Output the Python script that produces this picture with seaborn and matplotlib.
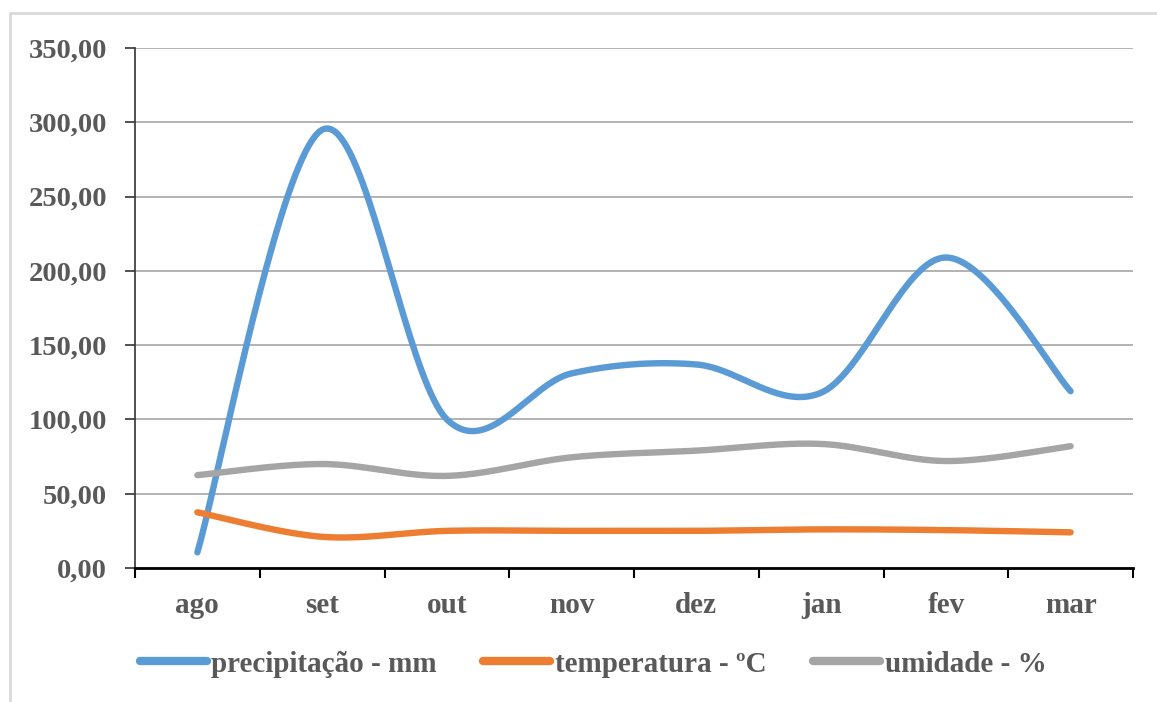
import numpy as np
import pandas as pd
import matplotlib
matplotlib.use("Agg")
import matplotlib.pyplot as plt
import seaborn as sns
from matplotlib.lines import Line2D
from matplotlib.ticker import FuncFormatter, MultipleLocator

months = ["ago", "set", "out", "nov", "dez", "jan", "fev", "mar"]
precipitacao = [10.5, 295.0, 100.0, 131.0, 137.0, 118.0, 209.0, 119.0]
temperatura = [37.5, 21.0, 25.0, 25.0, 25.0, 26.0, 25.5, 24.0]
umidade = [62.5, 70.0, 62.0, 74.5, 79.0, 83.5, 72.0, 82.0]

series_names = ["precipitação - mm", "temperatura - ºC", "umidade - %"]
series_values = [precipitacao, temperatura, umidade]
colors = ["#5B9BD5", "#ED7D31", "#A5A5A5"]


def smooth(x, y, n=40):
    # Catmull-Rom style smoothing (Excel "smoothed line" rendering)
    x = np.asarray(x, float)
    y = np.asarray(y, float)
    P = np.column_stack([x, y])
    P = np.vstack([P[0], P, P[-1]])
    out = []
    for i in range(1, len(P) - 2):
        p0, p1, p2, p3 = P[i - 1], P[i], P[i + 1], P[i + 2]
        c1 = p1 + (p2 - p0) / 6.0
        c2 = p2 - (p3 - p1) / 6.0
        t = np.linspace(0, 1, n, endpoint=(i == len(P) - 3))[:, None]
        pts = ((1 - t) ** 3) * p1 + 3 * ((1 - t) ** 2) * t * c1 + 3 * (1 - t) * t ** 2 * c2 + t ** 3 * p2
        out.append(pts)
    out = np.vstack(out)
    return out[:, 0], out[:, 1]


rows = []
xs = np.arange(len(months))
for name, vals in zip(series_names, series_values):
    sx, sy = smooth(xs, vals)
    for a, b in zip(sx, sy):
        rows.append({"x": a, "y": b, "serie": name})
df = pd.DataFrame(rows)

sns.set_style("white")
plt.rcParams["font.family"] = ["Liberation Serif", "DejaVu Serif"]
plt.rcParams["font.weight"] = "bold"

fig = plt.figure(figsize=(11.57, 7.02), dpi=100)
ax = fig.add_axes([135 / 1157, 1 - 568 / 702, (1133 - 135) / 1157, (568 - 48) / 702])

sns.lineplot(data=df, x="x", y="y", hue="serie", hue_order=series_names,
             palette=colors, sort=False, estimator=None, linewidth=4.6,
             legend=False, ax=ax, solid_capstyle="round")

ax.set_xlim(-0.5, len(months) - 0.5)
ax.set_ylim(0, 350)
ax.yaxis.set_major_locator(MultipleLocator(50))
ax.yaxis.set_major_formatter(FuncFormatter(lambda v, p: f"{v:.2f}".replace(".", ",")))
ax.set_xticks(xs)
ax.set_xticklabels(months)
ax.set_xticks(np.arange(-0.5, len(months), 1.0), minor=True)
ax.tick_params(axis="x", which="major", bottom=False, length=0, pad=17, labelsize=21,
               labelcolor="#595959")
ax.tick_params(axis="x", which="minor", bottom=True, length=7, width=1.5, color="black",
               direction="out")
ax.tick_params(axis="y", left=True, length=7, width=1.2, color="#333333", direction="out",
               pad=13, labelsize=20.5, labelcolor="#595959")
for lab in ax.get_xticklabels() + ax.get_yticklabels():
    lab.set_fontweight("bold")
ax.set_xlabel("")
ax.set_ylabel("")
ax.grid(axis="y", color="#A6A6A6", linewidth=1.2)
ax.set_axisbelow(True)
for s in ["top", "right"]:
    ax.spines[s].set_visible(False)
ax.spines["bottom"].set_color("black")
ax.spines["bottom"].set_linewidth(2)
ax.spines["left"].set_color("#333333")
ax.spines["left"].set_linewidth(1.2)

handles = [Line2D([0], [0], color=c, lw=6, solid_capstyle="round") for c in colors]
leg = fig.legend(handles, series_names, loc="center", bbox_to_anchor=(593 / 1157, 1 - 664 / 702),
                 ncol=3, frameon=False, handlelength=2.3, handletextpad=0.15,
                 columnspacing=1.6, prop={"size": 21, "weight": "bold"})
for t in leg.get_texts():
    t.set_color("#595959")

# outer frame (partially cropped)
fig.add_artist(Line2D([10 / 1157, 10 / 1157], [0, 1 - 13 / 702], transform=fig.transFigure,
                      color="#D9D9D9", lw=2))
fig.add_artist(Line2D([10 / 1157, 1], [1 - 13 / 702, 1 - 13 / 702], transform=fig.transFigure,
                      color="#D9D9D9", lw=2))

fig.savefig("out.png", dpi=100)
